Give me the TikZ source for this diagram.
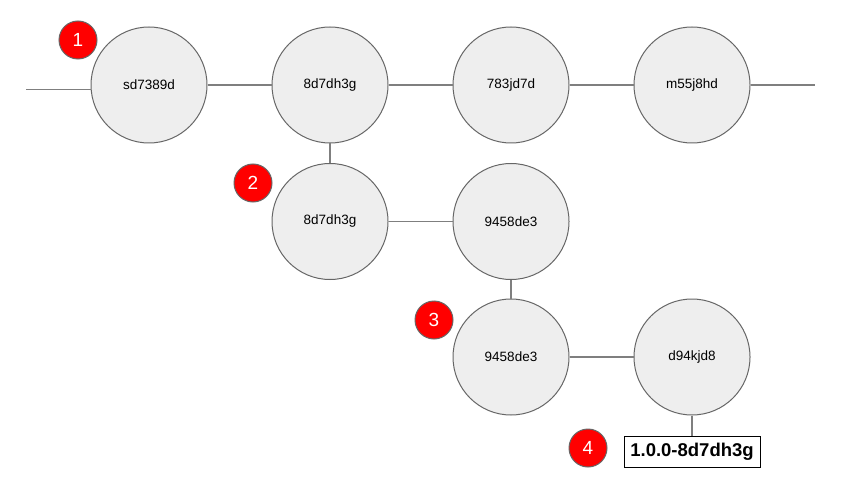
\documentclass[tikz,border=0pt]{standalone}
\usepackage{fontspec}
\setmainfont{Liberation Sans}
\definecolor{cfill}{HTML}{EEEEEE}
\definecolor{cline}{HTML}{666666}
\definecolor{eline}{HTML}{7F7F7F}
\begin{document}
\begin{tikzpicture}[x=1pt,y=-1pt,
  commit/.style={circle,draw=cline,fill=cfill,line width=1pt,minimum size=116pt,inner sep=0pt,font=\fontsize{13.5}{16}\selectfont},
  badge/.style={circle,draw=cline,fill=red,line width=1pt,minimum size=38pt,inner sep=0pt,text=white,font=\fontsize{19}{22}\selectfont},
  tagbox/.style={draw=black,fill=white,line width=1pt,minimum width=136pt,minimum height=31pt,inner sep=0pt,font=\bfseries\fontsize{18.5}{22}\selectfont},
  edge/.style={draw=eline,line width=1.4pt}]
\useasboundingbox (0,0) rectangle (850,489);
\coordinate (L) at (26,89.5);
\coordinate (R) at (815,85);
\node[commit] (a) at (149,85) {sd7389d};
\node[commit] (b) at (330,85) {8d7dh3g};
\node[commit] (c) at (511,85) {783jd7d};
\node[commit] (d) at (692,85) {m55j8hd};
\node[commit] (e) at (330,221.5) {8d7dh3g};
\node[commit] (f) at (511,221.5) {9458de3};
\node[commit] (g) at (511,357) {9458de3};
\node[commit] (h) at (692,357) {d94kjd8};
\node[tagbox] (t) at (692,451.5) {1.0.0-8d7dh3g};
\node[badge] (n1) at (78,40) {1};
\node[badge] (n2) at (253,183) {2};
\node[badge] (n3) at (434,320) {3};
\node[badge] (n4) at (588,448) {4};
\draw[edge] (L) -- (L -| a.west);
\draw[edge] (a) -- (b);
\draw[edge] (b) -- (c);
\draw[edge] (c) -- (d);
\draw[edge] (d) -- (R);
\draw[edge] (b) -- (e);
\draw[edge] (e) -- (f);
\draw[edge] (f) -- (g);
\draw[edge] (g) -- (h);
\draw[edge] (h) -- (t);
\end{tikzpicture}
\end{document}
